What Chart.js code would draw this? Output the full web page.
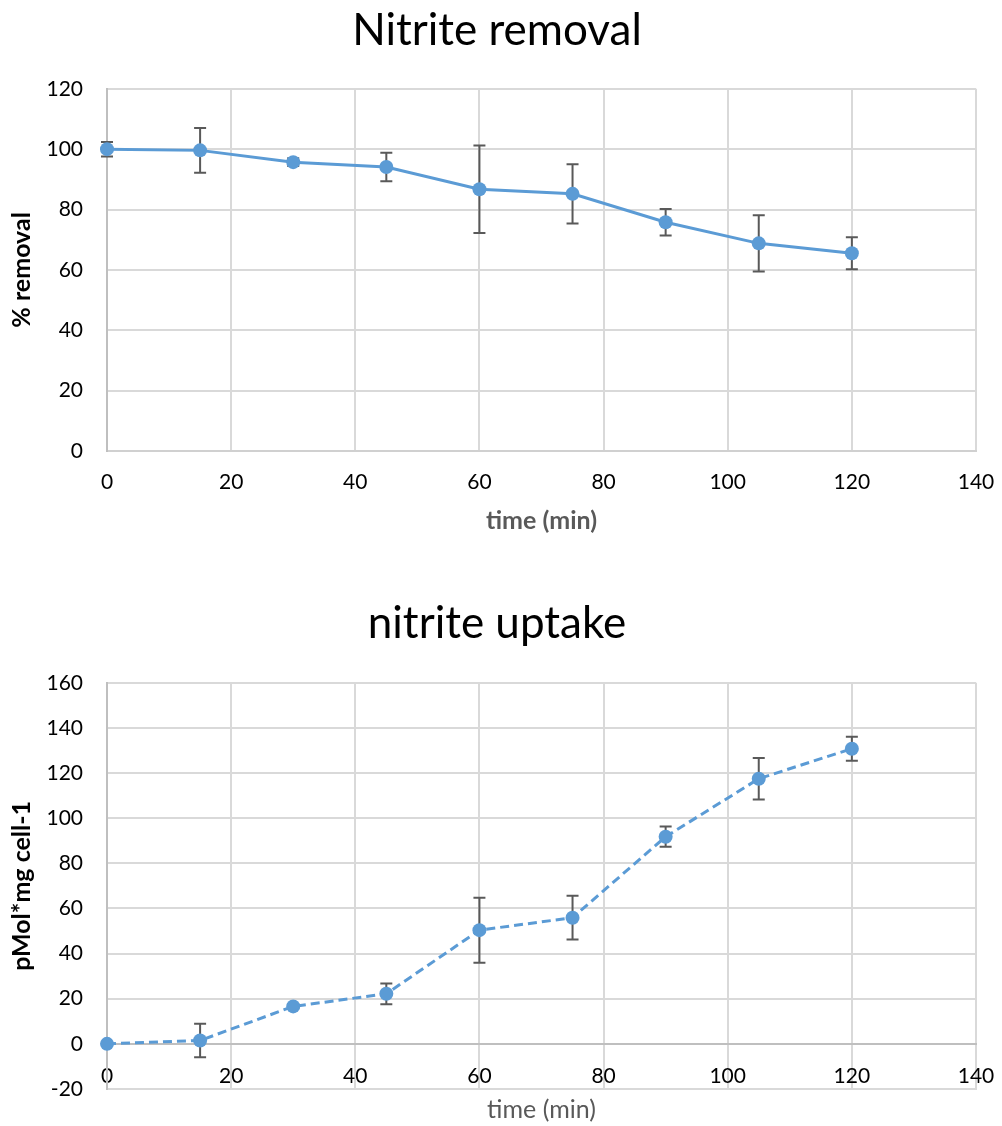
<!DOCTYPE html>
<html>
<head>
<meta charset="utf-8">
<script src="https://cdn.jsdelivr.net/npm/chart.js@4.4.1/dist/chart.umd.min.js"></script>
<style>
    html, body { margin: 0; padding: 0; background: #fff; }
    #wrap { width: 1002px; height: 1126px; }
    canvas { display: block; }
</style>
</head>
<body>
<div id="wrap">
    <canvas id="removalChart" width="1002" height="560"></canvas>
    <canvas id="uptakeChart" width="1002" height="566"></canvas>
</div>
<script>
const times = [0, 15, 30, 45, 60, 75, 90, 105, 120];

// % removal and its error (±)
const removal = [100, 99.6, 95.7, 94.1, 86.7, 85.2, 75.8, 68.8, 65.5];
const removalErr = [2.4, 7.4, 1.3, 4.7, 14.5, 9.8, 4.4, 9.3, 5.3];

// pMol*mg cell-1 and its error (±)
const uptake = [0, 1.5, 16.6, 22.2, 50.4, 55.9, 91.8, 117.5, 130.8];
const uptakeErr = [0.8, 7.4, 0.8, 4.6, 14.4, 9.7, 4.5, 9.2, 5.3];

const xTicks = { min: 0, max: 140, step: 20 };
const removalTicks = { min: 0, max: 120, step: 20 };
const uptakeTicks = { min: -20, max: 160, step: 20 };

const fontFamily = 'Lato, "Open Sans", sans-serif';
const blue = '#5b9bd5';
const gridColor = '#d9d9d9';

Chart.defaults.font.family = fontFamily;

const toPoints = (ys) => times.map((t, i) => ({ x: t, y: ys[i] }));

// draws vertical error bars with caps, using the chart's own scales
const errorBars = {
    id: 'errorBars',
    beforeDatasetsDraw(chart, args, opts) {
        const errs = opts.errors;
        if (!errs) return;
        const { ctx } = chart;
        const xs = chart.scales.x;
        const ys = chart.scales.y;
        const pts = chart.data.datasets[0].data;
        ctx.save();
        ctx.strokeStyle = '#595959';
        ctx.lineWidth = 2;
        pts.forEach((p, i) => {
            const e = errs[i];
            const x = xs.getPixelForValue(p.x);
            const top = ys.getPixelForValue(p.y + e);
            const bot = ys.getPixelForValue(p.y - e);
            ctx.beginPath();
            ctx.moveTo(x, top);
            ctx.lineTo(x, bot);
            ctx.moveTo(x - 6, top);
            ctx.lineTo(x + 6, top);
            ctx.moveTo(x - 6, bot);
            ctx.lineTo(x + 6, bot);
            ctx.stroke();
        });
        ctx.restore();
    },
};

const tickFont = { size: 21 };
const titleFont = { size: 44, weight: 'normal' };
const hidden = 'rgba(0,0,0,0)';
// plot spans x 107..976; padding split so the chart title sits centred on the page
const pagePadding = { left: 18, right: 26, top: 0, bottom: 0 };
const yAxisWidth = 89;

// keep the edge tick labels from eating into the plot width
const noLabelOverflow = (s) => { s.paddingLeft = 0; s.paddingRight = 0; };

const lineDataset = (data, dash) => ({
    data,
    borderColor: blue,
    backgroundColor: blue,
    borderWidth: 3,
    borderDash: dash,
    pointRadius: 7,
    pointBorderWidth: 0,
    pointBackgroundColor: blue,
    tension: 0,
    clip: false,
});

new Chart(document.getElementById('removalChart'), {
    type: 'line',
    data: { datasets: [lineDataset(toPoints(removal), [])] },
    plugins: [errorBars],
    options: {
        responsive: false,
        animation: false,
        devicePixelRatio: 1,
        layout: { padding: pagePadding },
        plugins: {
            legend: { display: false },
            tooltip: { enabled: false },
            title: {
                display: true,
                text: 'Nitrite removal',
                color: '#000',
                font: titleFont,
                padding: { top: 4, bottom: 32 },
            },
            errorBars: { errors: removalErr },
        },
        scales: {
            x: {
                type: 'linear',
                min: xTicks.min,
                max: xTicks.max,
                ticks: { stepSize: xTicks.step, color: '#000', font: tickFont, padding: 2, maxRotation: 0 },
                grid: { color: gridColor, lineWidth: 2, drawTicks: true, tickLength: 17, tickColor: hidden },
                border: { color: '#d0d0d0', width: 2 },
                title: {
                    display: true,
                    text: 'time (min)',
                    color: '#595959',
                    font: { size: 25, weight: 'bold' },
                    padding: { top: 0, bottom: 24 },
                },
                afterFit(s) { s.height = 109; noLabelOverflow(s); },
            },
            y: {
                min: removalTicks.min,
                max: removalTicks.max,
                ticks: { stepSize: removalTicks.step, color: '#000', font: tickFont, padding: 24 },
                grid: { color: gridColor, lineWidth: 2, drawTicks: false },
                border: { color: '#bfbfbf', width: 2 },
                title: {
                    display: true,
                    text: '% removal',
                    color: '#000',
                    font: { size: 25, weight: 'bold' },
                    padding: { top: -11, bottom: 0 },
                },
                afterFit(s) { s.width = yAxisWidth; },
            },
        },
    },
});

new Chart(document.getElementById('uptakeChart'), {
    type: 'line',
    data: { datasets: [lineDataset(toPoints(uptake), [9, 5])] },
    plugins: [errorBars],
    options: {
        responsive: false,
        animation: false,
        devicePixelRatio: 1,
        layout: { padding: pagePadding },
        plugins: {
            legend: { display: false },
            tooltip: { enabled: false },
            title: {
                display: true,
                text: 'nitrite uptake',
                color: '#000',
                font: titleFont,
                padding: { top: 37, bottom: 33 },
            },
            errorBars: { errors: uptakeErr },
        },
        scales: {
            x: {
                type: 'linear',
                min: xTicks.min,
                max: xTicks.max,
                ticks: { stepSize: xTicks.step, display: false },
                grid: { color: gridColor, lineWidth: 2, drawTicks: false },
                border: { color: gridColor, width: 2 },
                title: {
                    display: true,
                    text: 'time (min)',
                    color: '#595959',
                    font: { size: 25, weight: 'normal' },
                    padding: { top: 0, bottom: 1 },
                },
                afterFit(s) { s.height = 37; noLabelOverflow(s); },
            },
            x0: {
                type: 'linear',
                position: { y: 0 },
                min: xTicks.min,
                max: xTicks.max,
                ticks: { stepSize: xTicks.step, color: '#000', font: tickFont, padding: 2, maxRotation: 0 },
                grid: { display: true, drawOnChartArea: false, drawTicks: true, tickLength: 18, tickColor: hidden },
                border: { color: '#bfbfbf', width: 2 },
                afterFit(s) { noLabelOverflow(s); },
            },
            y: {
                min: uptakeTicks.min,
                max: uptakeTicks.max,
                ticks: { stepSize: uptakeTicks.step, color: '#000', font: tickFont, padding: 24 },
                grid: { color: gridColor, lineWidth: 2, drawTicks: false },
                border: { color: '#bfbfbf', width: 2 },
                title: {
                    display: true,
                    text: 'pMol*mg cell-1',
                    color: '#000',
                    font: { size: 25, weight: 'bold' },
                    padding: { top: -11, bottom: 0 },
                },
                afterFit(s) { s.width = yAxisWidth; },
            },
        },
    },
});
</script>
</body>
</html>
